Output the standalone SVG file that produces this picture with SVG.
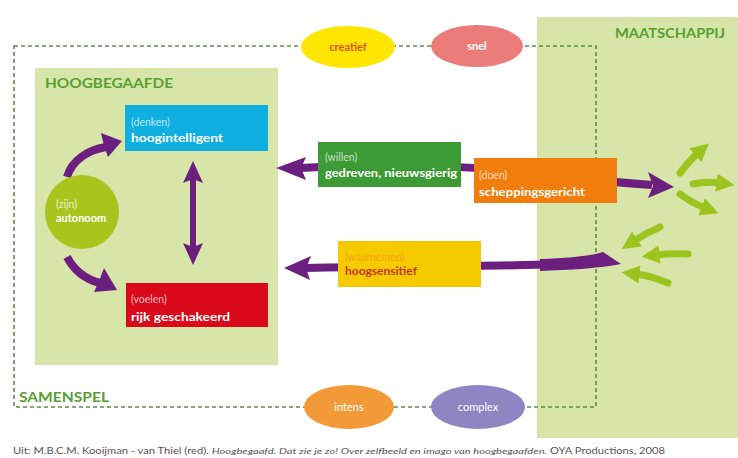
<svg xmlns="http://www.w3.org/2000/svg" width="738" height="458" viewBox="0 0 738 458">
<style>
.panel{fill:#d8e5a9}
.dash{fill:none;stroke:#5f8a48;stroke-width:1.6;stroke-dasharray:4 3}
.title{font-family:Lato,"Open Sans",sans-serif;font-weight:bold;font-size:14px;fill:#55a032}
.sub{font-family:Lato,"Open Sans",sans-serif;font-size:10.5px;fill:#ffffff;fill-opacity:0.72}
.main{font-family:Lato,"Open Sans",sans-serif;font-weight:bold;font-size:12px;fill:#ffffff}
.ell{font-family:Lato,"Open Sans",sans-serif;font-weight:bold;font-size:11px;fill:#ffffff;text-anchor:middle}
.purple{fill:#6d1f80}
.pstroke{fill:none;stroke:#6d1f80;stroke-linecap:butt}
.garrow{fill:none;stroke:#9cc41f;stroke-width:7;stroke-linecap:round;marker-end:url(#gh)}
.cap{font-family:Lato,"Open Sans",sans-serif;font-size:8.5px;fill:#555555}
</style>
<defs>
<marker id="gh" viewBox="0 0 10 10" refX="2" refY="5" markerWidth="2.6" markerHeight="2.8" orient="auto" markerUnits="strokeWidth">
<path d="M0,0 L10,5 L0,10 z" fill="#9cc41f"/>
</marker>
</defs>
<rect width="738" height="458" fill="#ffffff"/>

<g id="maatschappij">
<rect class="panel" x="537" y="17" width="201" height="421"/>
<text class="title" x="615" y="38" textLength="110" lengthAdjust="spacingAndGlyphs">MAATSCHAPPIJ</text>
</g>

<g id="hoogbegaafde">
<rect class="panel" x="35" y="68" width="243" height="297"/>
<text class="title" x="45" y="88" textLength="128" lengthAdjust="spacingAndGlyphs">HOOGBEGAAFDE</text>
</g>

<g id="samenspel">
<rect class="dash" x="14" y="46" width="582" height="361"/>
<text class="title" x="19" y="402" textLength="90" lengthAdjust="spacingAndGlyphs">SAMENSPEL</text>
</g>

<g id="connectors">
<!-- upper swoosh -->
<path class="pstroke" stroke-width="8" d="M300,168 C380,163 470,166 520,172 C570,178 610,182 652,185"/>
<path class="purple" d="M276,168 L306,157 L301,168 L306,180 Z"/>
<path class="purple" d="M674,187 L648,172 L653,186 L648,198 Z"/>
<!-- lower swoosh -->
<path class="pstroke" stroke-width="8" d="M305,268 C400,266 480,267 560,264"/>
<path class="purple" d="M540,259 C570,258 590,256 603,252 L621,264 C600,268 570,270 540,271 Z"/>
<path class="purple" d="M284,268 L311,256 L306,268 L310,280 Z"/>
<!-- autonoom to denken -->
<path class="pstroke" stroke-width="8" d="M67,177 C72,160 88,150 106,147"/>
<path class="purple" d="M122,141 L101,133 L104,146 L108,157 Z"/>
<!-- autonoom to voelen -->
<path class="pstroke" stroke-width="8" d="M67,257 C75,272 88,280 100,283"/>
<path class="purple" d="M117,290 L94,292 L99,281 L104,268 Z"/>
<!-- denken <-> voelen -->
<path class="pstroke" stroke-width="6" d="M193,178 L193,248"/>
<path class="purple" d="M193,161 L203,183 L193,179 L183,183 Z"/>
<path class="purple" d="M193,265 L203,243 L193,247 L183,243 Z"/>
<!-- green arrows -->
<path class="garrow" d="M680,173 Q690,160 698,153"/>
<path class="garrow" d="M693,184 Q706,181 720,183"/>
<path class="garrow" d="M680,194 Q692,203 705,208"/>
<path class="garrow" d="M660,227 Q646,233 634,241"/>
<path class="garrow" d="M688,254 Q672,253 656,255"/>
<path class="garrow" d="M668,283 Q652,276 636,274"/>
</g>

<g id="creatief">
<ellipse cx="348" cy="47" rx="47" ry="21" fill="#ffe600"/>
<text class="ell" x="348" y="51" fill="#d9541c" style="fill:#d9541c">creatief</text>
</g>
<g id="snel">
<ellipse cx="477" cy="46" rx="46" ry="21" fill="#ec7c7a"/>
<text class="ell" x="477" y="50">snel</text>
</g>
<g id="intens">
<ellipse cx="349" cy="407" rx="45" ry="22" fill="#f39a38"/>
<text class="ell" x="349" y="411" style="font-weight:normal">intens</text>
</g>
<g id="complex">
<ellipse cx="478" cy="407" rx="47" ry="22" fill="#8d86c2"/>
<text class="ell" x="478" y="411" style="font-weight:normal">complex</text>
</g>

<g id="autonoom">
<circle cx="82" cy="212" r="37" fill="#a9c51d"/>
<text class="sub" x="56" y="208" style="fill-opacity:0.8">(zijn)</text>
<text class="main" x="56" y="222" style="font-size:11px">autonoom</text>
</g>

<g id="denken">
<rect x="125" y="105" width="143" height="46" fill="#10afe2"/>
<text class="sub" x="131" y="126">(denken)</text>
<text class="main" x="131" y="142" textLength="92" lengthAdjust="spacingAndGlyphs">hoogintelligent</text>
</g>

<g id="voelen">
<rect x="126" y="283" width="142" height="44" fill="#d9091a"/>
<text class="sub" x="131" y="303">(voelen)</text>
<text class="main" x="131" y="321" textLength="99" lengthAdjust="spacingAndGlyphs">rijk geschakeerd</text>
</g>

<g id="willen">
<rect x="318" y="142" width="143" height="45" fill="#3d9b36"/>
<text class="sub" x="325" y="161">(willen)</text>
<text class="main" x="325" y="177" textLength="132" lengthAdjust="spacingAndGlyphs">gedreven, nieuwsgierig</text>
</g>

<g id="doen">
<rect x="474" y="158" width="143" height="45" fill="#f07d0c"/>
<text class="sub" x="479" y="179">(doen)</text>
<text class="main" x="479" y="196" textLength="106" lengthAdjust="spacingAndGlyphs">scheppingsgericht</text>
</g>

<g id="waarnemen">
<rect x="338" y="241" width="143" height="46" fill="#f5cb00"/>
<text class="sub" x="345" y="261" style="fill:#f7a21a;fill-opacity:1">(waarnemen)</text>
<text class="main" x="345" y="275" style="fill:#c2381a">hoogsensitief</text>
</g>

<g id="caption">
<text class="cap" x="13" y="454" textLength="652" lengthAdjust="spacingAndGlyphs">Uit: M.B.C.M. Kooijman - van Thiel (red). <tspan font-style="italic">Hoogbegaafd. Dat zie je zo! Over zelfbeeld en imago van hoogbegaafden.</tspan> OYA Productions, 2008</text>
</g>
</svg>
